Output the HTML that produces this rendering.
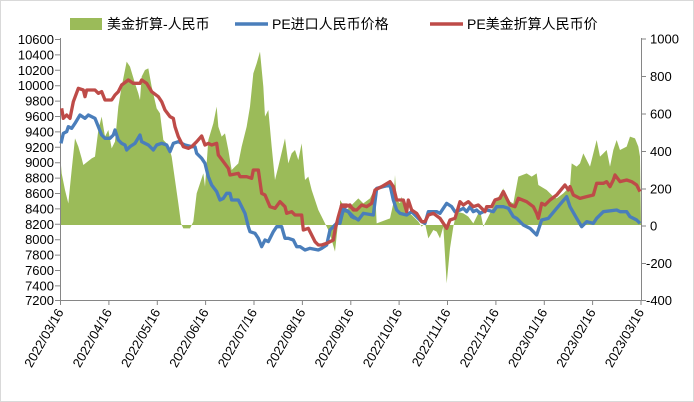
<!DOCTYPE html>
<html><head><meta charset="utf-8"><style>
body{margin:0;background:#fff}
svg{display:block;font-family:"Liberation Sans","Noto Sans CJK SC",sans-serif}
</style></head><body>
<svg width="694" height="402" viewBox="0 0 694 402">
<rect x="0.5" y="0.5" width="693" height="401" fill="#fff" stroke="#d9d9d9"/>
<!-- green area -->
<g transform="translate(55,30) scale(0.33333)" fill="#9bbb59">
<polygon points="15,585 15,370 20,430 30,480 40,520 50,420 60,325 70,350 80,385 85,405 110,385 120,380 130,300 140,260 150,320 160,300 170,355 180,335 190,230 200,170 210,120 215,95 225,110 240,160 250,190 255,210 260,140 270,120 280,115 290,170 305,235 315,250 325,330 340,345 350,380 360,450 370,520 378,580 385,595 405,595 415,575 425,490 435,460 445,430 450,470 460,330 475,280 485,230 490,290 500,320 510,310 520,360 530,420 540,410 550,400 560,350 575,290 585,230 595,130 605,100 615,65 625,170 630,260 640,240 650,350 660,450 670,410 690,325 700,400 710,370 720,360 730,390 740,340 750,450 760,440 770,480 790,540 800,560 810,580 820,600 830,630 840,665 850,570 860,550 880,560 900,550 900,585"/>
</g>
<g transform="translate(340,30) scale(0.33333)" fill="#9bbb59">
<polygon points="0,585 0,510 20,540 40,520 55,505 70,520 90,505 105,475 110,580 150,565 160,520 165,435 170,510 180,520 185,500 195,540 215,555 235,575 245,590 255,580 265,625 280,600 290,605 300,625 310,590 320,760 330,655 340,590 350,545 370,550 385,560 400,580 420,540 430,590 440,570 470,510 490,475 500,510 520,520 535,440 560,430 575,440 590,430 595,465 620,480 640,500 650,505 670,490 690,470 695,400 710,410 720,400 730,370 750,410 770,330 780,380 790,370 800,360 810,410 820,360 830,330 840,360 860,350 870,320 885,325 895,350 900,380 903,585"/>
</g>
<!-- axes -->
<g stroke="#868686" stroke-width="1" fill="none">
<line x1="60.5" y1="38" x2="60.5" y2="301"/>
<line x1="641.5" y1="38" x2="641.5" y2="301"/>
<line x1="60" y1="300.5" x2="642" y2="300.5"/>
</g>
<g stroke="#868686" stroke-width="1">
<path d="M55 39.5h5M55 54.9h5M55 70.3h5M55 85.7h5M55 101.1h5M55 116.5h5M55 131.9h5M55 147.3h5M55 162.7h5M55 178.1h5M55 193.5h5M55 208.9h5M55 224.3h5M55 239.7h5M55 255.1h5M55 270.5h5M55 285.9h5M55 300.5h5"/>
<path d="M641 39h5M641 76.5h5M641 114h5M641 151.5h5M641 189h5M641 226h5M641 263.5h5M641 300.5h5"/>
<path d="M60.5 300v5M108.9 300v5M157.3 300v5M205.6 300v5M254 300v5M302.4 300v5M350.8 300v5M399.1 300v5M447.5 300v5M495.9 300v5M544.3 300v5M592.6 300v5M641 300v5"/>
</g>
<!-- lines -->
<g transform="translate(55,30) scale(0.33333)" fill="none" stroke-width="10" stroke-linejoin="round">
<polyline stroke="#4a7ebb" points="18,340 25,310 35,305 40,290 50,295 60,280 75,255 90,265 100,255 120,265 130,290 140,315 150,325 165,325 175,315 180,300 190,330 200,340 210,345 215,360 225,350 240,340 255,315 260,335 270,340 280,345 295,360 305,345 320,340 335,345 345,365 355,340 370,335 380,340 390,345 410,350 420,350 425,370 440,385 450,400 460,440 470,465 485,485 495,510 505,505 515,490 525,490 530,510 550,510 560,530 570,550 580,590 585,605 600,610 610,625 620,650 630,630 640,635 655,605 665,590 680,590 690,625 700,625 715,630 725,650 735,650 750,660 765,655 790,660 800,655 815,645 825,600 835,590 845,580 855,580 865,535 880,545 890,560 900,565"/>
<polyline stroke="#be4b48" points="20,235 25,265 35,255 45,265 55,215 70,175 85,180 90,200 95,180 120,180 130,190 140,185 150,210 170,210 180,195 190,185 200,165 220,150 235,160 255,160 260,150 275,160 290,185 310,200 320,215 330,240 345,260 355,265 360,290 370,320 385,350 400,355 410,350 425,335 440,318 450,345 460,340 470,345 485,340 490,375 505,395 520,415 525,435 550,430 555,440 575,440 590,445 595,420 610,420 620,490 630,495 645,530 660,535 675,515 690,530 695,550 710,545 720,555 740,555 745,600 760,595 780,635 790,645 800,645 815,640 835,630 840,600 850,560 860,525 875,525 885,530 900,540"/>
</g>
<g transform="translate(340,30) scale(0.33333)" fill="none" stroke-width="10" stroke-linejoin="round">
<polyline stroke="#4a7ebb" points="0,575 10,540 25,545 40,560 55,570 70,550 100,555 110,475 130,470 150,465 160,510 170,540 180,550 200,555 215,545 230,560 245,575 255,580 265,545 290,545 300,550 320,520 335,530 345,545 360,540 370,535 380,545 390,530 400,545 410,540 420,550 440,540 460,545 470,530 490,530 505,535 520,560 530,565 550,585 570,595 590,615 605,570 625,565 650,535 680,500 690,530 710,565 725,590 740,575 760,580 770,565 790,545 830,540 840,545 860,545 870,560 890,570 900,580"/>
<polyline stroke="#be4b48" points="0,525 15,530 30,525 40,540 50,540 65,525 80,530 95,520 105,480 125,470 150,455 160,470 170,510 190,510 200,545 205,510 215,540 230,550 245,575 255,575 265,555 280,550 300,565 320,595 330,570 345,565 360,515 370,525 385,515 400,530 415,525 425,535 435,545 440,530 455,530 465,510 480,505 490,485 500,505 510,525 525,530 535,505 560,515 580,530 590,550 595,565 605,520 615,525 630,510 650,495 675,465 685,480 690,470 700,495 720,505 740,500 760,495 770,460 790,460 800,455 810,470 820,450 825,435 840,455 860,450 875,455 890,465 900,485"/>
</g>
<!-- left labels -->
<g font-size="13" fill="#000" text-anchor="end">
<text x="54" y="44">10600</text><text x="54" y="59.4">10400</text><text x="54" y="74.8">10200</text><text x="54" y="90.2">10000</text>
<text x="54" y="105.6">9800</text><text x="54" y="121">9600</text><text x="54" y="136.4">9400</text><text x="54" y="151.8">9200</text>
<text x="54" y="167.2">9000</text><text x="54" y="182.6">8800</text><text x="54" y="198">8600</text><text x="54" y="213.4">8400</text>
<text x="54" y="228.8">8200</text><text x="54" y="244.2">8000</text><text x="54" y="259.6">7800</text><text x="54" y="275">7600</text>
<text x="54" y="290.4">7400</text><text x="54" y="305">7200</text>
</g>
<g font-size="13" fill="#000" text-anchor="start">
<text x="650" y="43.5">1000</text><text x="650" y="81">800</text><text x="650" y="118.5">600</text><text x="650" y="156">400</text>
<text x="650" y="193.5">200</text><text x="650" y="230.5">0</text><text x="646" y="268">-200</text><text x="646" y="305">-400</text>
</g>
<g font-size="13" fill="#000" text-anchor="end">
<text transform="translate(64,312) rotate(-60)">2022/03/16</text>
<text transform="translate(112.4,312) rotate(-60)">2022/04/16</text>
<text transform="translate(160.8,312) rotate(-60)">2022/05/16</text>
<text transform="translate(209.1,312) rotate(-60)">2022/06/16</text>
<text transform="translate(257.5,312) rotate(-60)">2022/07/16</text>
<text transform="translate(305.9,312) rotate(-60)">2022/08/16</text>
<text transform="translate(354.3,312) rotate(-60)">2022/09/16</text>
<text transform="translate(402.6,312) rotate(-60)">2022/10/16</text>
<text transform="translate(451,312) rotate(-60)">2022/11/16</text>
<text transform="translate(499.4,312) rotate(-60)">2022/12/16</text>
<text transform="translate(547.8,312) rotate(-60)">2023/01/16</text>
<text transform="translate(596.1,312) rotate(-60)">2023/02/16</text>
<text transform="translate(644.5,312) rotate(-60)">2023/03/16</text>
</g>
<!-- legend -->
<rect x="70" y="18" width="32" height="12" fill="#9bbb59"/>
<text x="107" y="29" font-size="14">美金折算-人民币</text>
<line x1="235" y1="24" x2="268" y2="24" stroke="#4a7ebb" stroke-width="3.5"/>
<text x="272" y="29" font-size="14">PE进口人民币价格</text>
<line x1="430" y1="24" x2="463" y2="24" stroke="#be4b48" stroke-width="3.5"/>
<text x="467" y="29" font-size="14">PE美金折算人民币价</text>
</svg>
</body></html>
